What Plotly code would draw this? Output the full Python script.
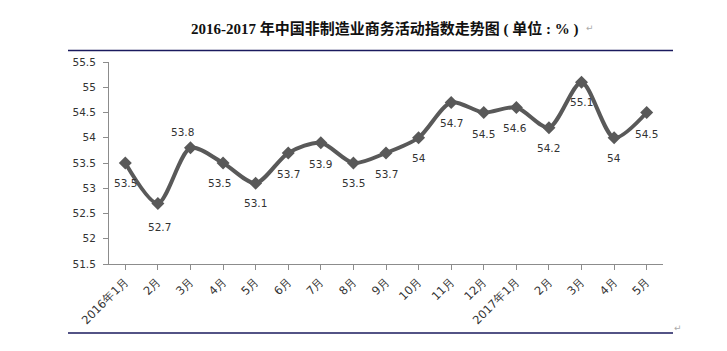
import plotly.graph_objects as go

months = ["2016年1月", "2月", "3月", "4月", "5月", "6月", "7月", "8月", "9月", "10月",
          "11月", "12月", "2017年1月", "2月", "3月", "4月", "5月"]
values = [53.5, 52.7, 53.8, 53.5, 53.1, 53.7, 53.9, 53.5, 53.7, 54.0,
          54.7, 54.5, 54.6, 54.2, 55.1, 54.0, 54.5]
value_labels = ["53.5", "52.7", "53.8", "53.5", "53.1", "53.7", "53.9", "53.5", "53.7", "54",
                "54.7", "54.5", "54.6", "54.2", "55.1", "54", "54.5"]
y_ticks = [51.5, 52, 52.5, 53, 53.5, 54, 54.5, 55, 55.5]
y_tick_text = ["51.5", "52", "52.5", "53", "53.5", "54", "54.5", "55", "55.5"]

# label offsets (pixels) per point
label_dx = [0, 2, -8, -4, 0, 0, 0, 0, 0, 0, 0, 0, -1, 0, 0, 0, 0]
label_dy = [-20, -24, 16, -20, -20, -21, -21, -20, -21, -20, -21, -21, -21, -20, -20, -20, -21]

idx = list(range(len(months)))

fig = go.Figure()
fig.add_trace(go.Scatter(
    x=idx, y=values, mode="lines+markers",
    line=dict(color="#595959", width=4, shape="spline", smoothing=0.8),
    marker=dict(symbol="diamond", size=10, color="#595959"),
    hoverinfo="skip", showlegend=False,
))

for i, (v, t) in enumerate(zip(values, value_labels)):
    fig.add_annotation(x=i, y=v, text=t, showarrow=False,
                       xanchor="center", yanchor="middle",
                       xshift=label_dx[i], yshift=label_dy[i],
                       font=dict(family="DejaVu Sans", size=10.5, color="#333333"))

fig.update_layout(
    width=727, height=351,
    margin=dict(l=109, r=64, t=62, b=87),
    paper_bgcolor="white", plot_bgcolor="white",
    xaxis=dict(
        tickmode="array", tickvals=idx, ticktext=months,
        range=[-0.5, len(months) - 0.5],
        tickangle=-45, showgrid=False, zeroline=False,
        showline=True, linecolor="#8c8c8c", linewidth=1,
        ticks="outside", ticklen=5, tickcolor="#8c8c8c", tickson="boundaries",
        tickfont=dict(family="DejaVu Sans", size=11.5, color="#333333"),
    ),
    yaxis=dict(
        range=[51.5, 55.5], tickmode="array", tickvals=y_ticks, ticktext=y_tick_text,
        showgrid=False, zeroline=False,
        showline=True, linecolor="#8c8c8c", linewidth=1,
        ticks="outside", ticklen=5, tickcolor="#8c8c8c", ticklabelstandoff=5,
        tickfont=dict(family="DejaVu Sans", size=10.5, color="#333333"),
    ),
    font=dict(family="DejaVu Sans"),
)

# title
fig.add_annotation(
    xref="paper", yref="paper", x=(385 - 109) / 554, y=1 + (62 - 27) / 202,
    xanchor="center", yanchor="middle",
    text="<b><span style='font-family:Liberation Serif'>2016-2017 </span>年中国非制造业商务活动指数走势图"
         "<span style='font-family:Liberation Serif'> ( </span>单位<span style='font-family:Liberation Serif'> : % )</span></b>",
    showarrow=False, font=dict(family="Noto Sans CJK SC", size=15, color="#111111"),
)
fig.add_annotation(
    xref="paper", yref="paper", x=(590 - 109) / 554, y=1 + (62 - 28) / 202,
    xanchor="center", yanchor="middle",
    text="↵", showarrow=False, font=dict(family="DejaVu Sans", size=9, color="#aaaaaa"),
)
fig.add_annotation(
    xref="paper", yref="paper", x=(678 - 109) / 554, y=-(328 - 264) / 202,
    xanchor="center", yanchor="middle",
    text="↵", showarrow=False, font=dict(family="DejaVu Sans", size=9, color="#aaaaaa"),
)

# frame lines (navy)
for ypx in (50.5, 333):
    fig.add_shape(type="line", xref="paper", yref="paper",
                  x0=(68 - 109) / 554, x1=(673 - 109) / 554,
                  y0=(264 - ypx) / 202, y1=(264 - ypx) / 202,
                  line=dict(color="#1a1a5e", width=1.5))

fig.write_html("out.html")
